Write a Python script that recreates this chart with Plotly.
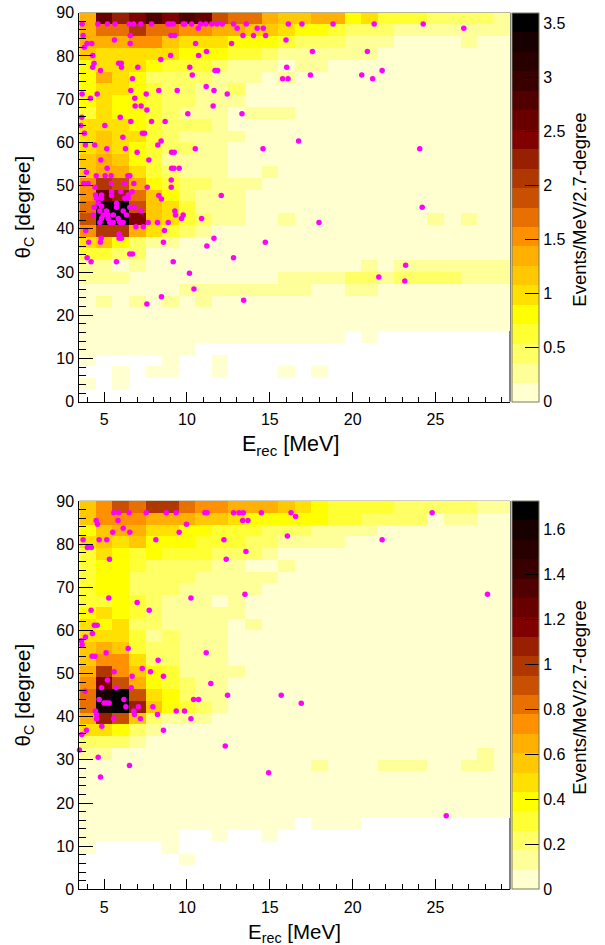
import numpy as np
import plotly.graph_objects as go

N = None
FONT = "Liberation Sans"

E_EDGES = np.arange(3.5, 30.5, 1.0)
THETA_EDGES = np.linspace(0, 90, 34)

COLORS = [
    "#FFFFD0", "#FFFF99", "#FFFF66", "#FFFF33", "#FFFF00",
    "#FFE000", "#FFC800", "#FFB000", "#FF9000", "#E87000",
    "#C85000", "#B03800", "#982000", "#800000", "#680000",
    "#500000", "#380000", "#280000", "#180000", "#000000",
]

# rows run from the top of the panel (theta = 90) down to theta = 0
TOP_Z = [
    [1.35, 2.61, 2.25, 2.43, 2.79, 2.43, 2.79, 2.61, 1.89, 1.71, 1.71, 1.35, 1.17, 1.17, 1.35, 1.35, .81, .99, .63, .63, .63, .45, .45, .45, .45, .27],
    [1.35, 1.71, 1.71, 2.07, 1.71, 1.71, 1.53, 1.53, 1.35, 1.35, 1.17, 1.17, .99, .81, .81, .63, .45, .45, .45, .27, .27, .27, .27, .27, .27, .27],
    [1.35, 1.35, 1.35, 1.53, 1.53, 1.17, .99, .99, .99, .81, .81, .81, .63, .45, .45, .45, .27, .27, .27, .09, .09, .09, .09, .27, .09, .09],
    [1.17, .99, .99, .99, .99, .99, .81, .81, .81, .63, .63, .45, .27, .27, .27, .27, .27, .27, .09, .09, .09, .09, .09, .09, .09, .09],
    [.81, .99, .99, .99, .81, .63, .63, .63, .45, .27, .27, .27, .09, .27, .27, .09, .09, .09, .09, .09, .09, .09, .09, .09, .09, .09],
    [.81, 1.35, .99, .81, .45, .45, .45, .45, .27, .27, .27, .09, .27, .09, .09, .09, .09, .09, .09, .09, .09, .09, .09, .09, .09, .09],
    [.81, .99, .99, .81, .63, .45, .45, .27, .27, .45, .09, .09, .09, .09, .09, .09, .09, .09, .09, .09, .09, .09, .09, .09, .09, .09],
    [.81, .99, .81, .81, .63, .45, .45, .27, .27, .27, .09, .09, .09, .09, .09, .09, .09, .09, .09, .09, .09, .09, .09, .09, .09, .09],
    [.63, .99, .81, .81, .63, .45, .27, .27, .27, .09, .27, .27, .27, .09, .09, .09, .09, .09, .09, .09, .09, .09, .09, .09, .09, .09],
    [.99, .99, .99, .81, .63, .45, .45, .45, .27, .09, .09, .09, .09, .09, .09, .09, .09, .09, .09, .09, .09, .09, .09, .09, .09, .09],
    [.99, 1.17, .99, .99, .63, .45, .27, .27, .27, .27, .09, .09, .09, .09, .09, .09, .09, .09, .09, .09, .09, .09, .09, .09, .09, .09],
    [.99, 1.17, .99, .81, .63, .45, .45, .27, .27, .09, .09, .09, .09, .09, .09, .09, .09, .09, .09, .09, .09, .09, .09, .09, .09, .09],
    [1.17, 1.35, 1.17, .81, .63, .27, .27, .27, .27, .09, .09, .09, .09, .09, .09, .09, .09, .09, .09, .09, .09, .09, .09, .09, .09, .09],
    [1.17, 1.35, 1.35, .99, .63, .45, .27, .27, .27, .09, .09, .27, .09, .09, .09, .09, .09, .09, .09, .09, .09, .09, .09, .09, .09, .09],
    [1.53, 2.07, 1.89, 1.35, .81, .63, .45, .45, .27, .27, .27, .09, .09, .09, .09, .09, .09, .09, .09, .09, .09, .09, .09, .09, .09, .09],
    [1.53, 2.61, 2.25, 1.71, 1.17, .81, .45, .27, .27, .27, .09, .09, .09, .09, .09, .09, .09, .09, .09, .09, .09, .09, .09, .09, .09, .09],
    [1.71, 3.33, 3.51, 1.89, 1.17, .99, .63, .27, .27, .27, .09, .09, .09, .09, .09, .09, .09, .09, .09, .09, .09, .09, .09, .09, .09, .09],
    [1.89, 3.51, 3.51, 2.43, 1.17, .99, .63, .45, .27, .27, .09, .09, .27, .09, .09, .09, .09, .09, .09, .09, .09, .27, .09, .27, .09, .09],
    [1.53, 2.07, 2.07, 1.35, .99, .63, .45, .27, .09, .09, .09, .09, .09, .09, .09, .09, .09, .09, .09, .09, .09, .09, .09, .09, .09, .09],
    [.99, 1.17, .81, .45, .27, .27, .09, .09, .09, .09, .09, .09, .09, .09, .09, .09, .09, .09, .09, .09, .09, .09, .09, .09, .09, .09],
    [.63, .63, .45, .45, .09, .09, .09, .09, .09, .09, .09, .09, .09, .09, .09, .09, .09, .09, .09, .09, .09, .09, .09, .09, .09, .09],
    [.27, .27, .09, .27, .09, .09, .09, .09, .09, .09, .09, .09, .09, .09, .09, .09, .09, .27, .09, .27, .27, .27, .27, .27, .27, .27],
    [.27, .27, .27, .09, .09, .09, .09, .09, .09, .09, .09, .09, .27, .27, .27, .27, .45, .45, .27, .45, .45, .45, .45, .27, .27, .27],
    [.09, .09, .09, .09, .09, .09, .27, .27, .27, .27, .27, .27, .27, .27, .09, .09, .27, .27, .09, .09, .09, .09, .09, .09, .09, .09],
    [.09, .27, .09, .27, .09, .27, .09, .27, .09, .09, .09, .09, .09, .09, .09, .09, .09, .09, .09, .09, .09, .09, .09, .09, .09, .09],
    [.09, .09, .09, .09, .09, .09, .09, .09, .09, .09, .09, .09, .09, .09, .09, .09, .09, .09, .09, .09, .09, .09, .09, .09, .09, .09],
    [.09, .09, .09, .09, .09, .09, .09, .09, .09, .09, .09, .09, .09, .09, .09, .09, .09, .09, .09, .09, .09, .09, .09, .09, .09, .09],
    [.09, .09, .09, .09, .09, .09, .09, .09, .09, .09, .09, .09, .09, .09, .09, .09, N, .09, N, N, N, N, N, N, N, N],
    [.09, .09, .09, .09, .09, .09, .09, N, N, N, N, N, N, N, N, N, N, N, N, N, N, N, N, N, N, N],
    [.09, N, N, N, N, .09, N, N, .09, N, N, N, N, N, N, N, N, N, N, N, N, N, N, N, N, N],
    [N, N, .09, N, .09, .09, N, N, .09, N, N, N, .09, N, .09, N, N, N, N, N, N, N, N, N, N, N],
    [.09, N, .09, N, N, N, N, N, N, N, N, N, N, N, N, N, N, N, N, N, N, N, N, N, N, N],
    [N, N, N, N, N, N, N, N, N, N, N, N, N, N, N, N, N, N, N, N, N, N, N, N, N, N],
]

BOTTOM_Z = [
    [.56, .73, .91, .82, .99, .99, .82, .73, .73, .65, .65, .65, .56, .47, .39, .30, .30, .30, .30, .22, .22, .22, .22, .22, .13, .13],
    [.56, .73, .73, .73, .65, .65, .65, .56, .56, .47, .39, .39, .39, .39, .39, .30, .30, .22, .22, .22, .22, .04, .13, .13, .04, .04],
    [.39, .56, .65, .65, .47, .47, .39, .39, .30, .30, .30, .22, .22, .22, .13, .13, .13, .13, .04, .04, .04, .04, .04, .04, .04, .04],
    [.47, .56, .47, .56, .39, .39, .39, .30, .30, .30, .22, .22, .13, .13, .13, .13, .04, .04, .04, .04, .04, .04, .04, .04, .04, .04],
    [.30, .47, .39, .30, .39, .30, .30, .30, .22, .22, .22, .13, .04, .04, .04, .04, .04, .04, .04, .04, .04, .04, .04, .04, .04, .04],
    [.30, .39, .39, .30, .22, .22, .22, .22, .13, .13, .04, .04, .13, .04, .04, .04, .04, .04, .04, .04, .04, .04, .04, .04, .04, .04],
    [.30, .39, .39, .22, .22, .22, .22, .13, .13, .13, .13, .13, .04, .04, .04, .04, .04, .04, .04, .04, .04, .04, .04, .04, .04, .04],
    [.30, .39, .39, .22, .22, .22, .13, .13, .13, .13, .13, .04, .04, .04, .04, .04, .04, .04, .04, .04, .04, .04, .04, .04, .04, .04],
    [.30, .30, .39, .30, .22, .13, .13, .13, .04, .13, .04, .04, .04, .04, .04, .04, .04, .04, .04, .04, .04, .04, .04, .04, .04, .04],
    [.39, .47, .39, .30, .22, .13, .13, .13, .13, .13, .04, .04, .04, .04, .04, .04, .04, .04, .04, .04, .04, .04, .04, .04, .04, .04],
    [.47, .39, .47, .22, .22, .13, .13, .13, .13, .04, .13, .04, .04, .04, .04, .04, .04, .04, .04, .04, .04, .04, .04, .04, .04, .04],
    [.47, .47, .47, .30, .13, .22, .13, .13, .13, .04, .04, .04, .04, .04, .04, .04, .04, .04, .04, .04, .04, .04, .04, .04, .04, .04],
    [.56, .65, .56, .30, .22, .22, .13, .13, .13, .04, .04, .04, .04, .04, .04, .04, .04, .04, .04, .04, .04, .04, .04, .04, .04, .04],
    [.56, .73, .73, .47, .22, .22, .13, .13, .13, .04, .04, .04, .04, .04, .04, .04, .04, .04, .04, .04, .04, .04, .04, .04, .04, .04],
    [.65, .99, .73, .56, .39, .30, .13, .13, .13, .13, .04, .04, .04, .04, .04, .04, .04, .04, .04, .04, .04, .04, .04, .04, .04, .04],
    [.73, 1.16, .91, .65, .39, .30, .22, .13, .13, .04, .04, .04, .04, .04, .04, .04, .04, .04, .04, .04, .04, .04, .04, .04, .04, .04],
    [.82, 1.60, 1.68, .91, .47, .39, .22, .13, .13, .04, .04, .04, .04, .04, .04, .04, .04, .04, .04, .04, .04, .04, .04, .04, .04, .04],
    [.82, 1.60, 1.68, 1.08, .56, .39, .30, .22, .13, .04, .04, .04, .04, .04, .04, .04, .04, .04, .04, .04, .04, .04, .04, .04, .04, .04],
    [.65, 1.08, .91, .56, .22, .13, .13, .13, .04, .04, .04, .04, .04, .04, .04, .04, .04, .04, .04, .04, .04, .04, .04, .04, .04, .04],
    [.47, .47, .39, .22, .13, .04, .04, .04, .04, .04, .04, .04, .04, .04, .04, .04, .04, .04, .04, .04, .04, .04, .04, .04, .04, .04],
    [.22, .22, .22, .13, .04, .04, .04, .04, .04, .04, .04, .04, .04, .04, .04, .04, .04, .04, .04, .04, .04, .04, .04, .04, .04, .04],
    [.13, .13, .04, .04, .04, .04, .04, .04, .04, .04, .04, .04, .04, .04, .04, .04, .04, .04, .04, .04, .04, .04, .04, .04, .13, .04],
    [.04, .04, .04, .04, .04, .04, .04, .04, .04, .04, .04, .04, .04, .04, .13, .04, .04, .04, .13, .13, .13, .04, .04, .13, .13, .04],
    [.04, .04, .04, .04, .04, .04, .04, .04, .04, .04, .04, .04, .04, .04, .04, .04, .04, .04, .04, .04, .04, .04, .04, .04, .04, .04],
    [.04, .04, .04, .04, .04, .04, .04, .04, .04, .04, .04, .04, .04, .04, .04, .04, .04, .04, .04, .04, .04, .04, .04, .04, .04, .04],
    [.04, .04, .04, .04, .04, .04, .04, .04, .04, .04, .04, .04, .04, .04, .04, .04, .04, .04, .04, .04, .04, .04, .04, .04, .04, .04],
    [.04, .04, .04, .04, .04, .04, .04, .04, .04, .04, .04, .04, .04, .04, .04, .04, .04, .04, .04, .04, .04, .04, .04, .04, .04, .04],
    [.04, .04, .04, .04, .04, .04, .04, .04, .04, .04, .04, .04, .04, N, .04, .04, .04, N, N, N, N, N, N, N, N, N],
    [.04, .04, .04, .04, .04, .04, N, N, .04, N, N, .04, N, N, N, N, N, N, N, N, N, N, N, N, N, N],
    [.04, N, N, N, N, .04, N, N, N, N, N, N, N, N, N, N, N, N, N, N, N, N, N, N, N, N],
    [N, N, N, N, N, N, .04, N, N, N, N, N, N, N, N, N, N, N, N, N, N, N, N, N, N, N],
    [N, N, N, N, N, N, N, N, N, N, N, N, N, N, N, N, N, N, N, N, N, N, N, N, N, N],
    [N, N, N, N, N, N, N, N, N, N, N, N, N, N, N, N, N, N, N, N, N, N, N, N, N, N],
]

TOP_E = [
    3.67, 4.62, 5.2, 5.66, 6.51, 6.77, 7.21, 7.86, 8.85, 8.99, 9.17, 9.77, 9.87, 10.28, 10.82, 11.14, 11.5, 11.81, 12.13, 12.81, 13.58, 16.12, 16.94, 18.82, 21.3, 24.26,
    10.68, 13.03, 14.24, 14.61, 26.71,
    3.73, 6.57, 9.03, 9.27, 13.38, 14.02, 14.75,
    5.62, 15.98,
    3.97, 4.25, 6.57, 10.52, 12.69,
    3.81,
    11.18, 17.57, 20.89,
    4.31, 9.01, 10.7,
    8.42,
    4.39, 5.88, 6.03,
    4.31, 6.05, 7.03, 10.17, 16.02,
    4.78, 11.69, 11.85, 21.78,
    10.32, 17.45, 20.55,
    6.71, 15.77, 16.1, 21.21,
    11.16,
    6.61, 8.3, 9.41, 11.63,
    3.67, 4.58, 7.54, 12.43,
    4.17, 6.85,
    6.87, 7.23, 11.58,
    7.58,
    10.05, 13.32,
    3.65, 5.97,
    6.61, 7.86, 8.68,
    3.59, 5.04,
    3.81, 7.31, 7.44,
    6.13,
    8.44, 16.74,
    8.24, 3.87, 4.43,
    5.16, 6.29, 10.5, 14.59, 24.05,
    6.99, 9.07, 9.23,
    4.8, 7.7,
    5.18, 9.07, 9.21, 9.53,
    3.93,
    4.52, 5.06, 5.42, 6.43, 6.55,
    9.05,
    3.77, 4.03, 5.44, 6.21, 6.79,
    4.45, 7.6, 9.05,
    5.45, 6.01, 6.69,
    4.48, 4.84, 6.45,
    12.07, 8.3, 5.45,
    4.54, 4.84, 6.25, 6.45,
    8.46,
    4.64, 5.75,
    4.84,
    4.4, 5.75, 6.55, 6.82, 24.2,
    7.22, 6.15, 4.74, 5.14, 9.27,
    4.34, 6.35, 4.94, 5.24, 5.55, 9.31, 9.77,
    4.84, 5.85, 5.24, 9.67, 10.88,
    4.74, 5.34, 5.55, 5.95, 6.15, 7.66, 8.22, 8.87, 17.97,
    6.92, 7.36,
    3.89, 8.64,
    5.9,
    4.82, 5.9, 6.05, 11.63,
    4.07, 4.78, 8.58, 14.73,
    11.2,
    6.55, 6.71,
    3.97, 12.81,
    4.21, 5.74, 9.17,
    23.2,
    10.15,
    21.58,
    23.15,
    10.42,
    8.46,
    13.42,
    7.58,
]
TOP_THETA = [
    87.4, 87.4, 87.4, 87.4, 87.4, 87.4, 87.4, 87.4, 87.4, 87.4, 87.4, 87.4, 87.4, 87.4, 87.4, 87.4, 87.4, 87.4, 87.4, 87.4, 87.4, 87.4, 87.4, 87.4, 87.4, 87.4,
    86.4, 86.4, 86.4, 86.4, 86.4,
    84.7, 84.7, 84.7, 84.7, 84.7, 84.7, 84.7,
    83.7, 83.7,
    82.9, 82.9, 82.9, 82.9, 82.9,
    82.0,
    81.0, 81.0, 81.0,
    80.1, 80.1, 80.1,
    79.2,
    78.3, 78.3, 78.3,
    77.4, 77.4, 77.4, 77.4, 77.4,
    76.6, 76.6, 76.6, 76.6,
    75.6, 75.6, 75.6,
    74.7, 74.7, 74.7, 74.7,
    72.9,
    72.0, 72.0, 72.0, 72.0,
    71.2, 71.2, 71.2, 71.2,
    70.2, 70.2,
    68.4, 68.4, 68.4,
    67.5,
    66.6, 66.6,
    65.8, 65.8,
    64.8, 64.8, 64.8,
    63.9, 63.9,
    62.1, 62.1, 62.1,
    61.2,
    60.3, 60.3,
    59.4, 59.4, 59.4,
    58.5, 58.5, 58.5, 58.5, 58.5,
    57.7, 57.7, 57.7,
    55.9, 55.9,
    54.0, 54.0, 54.0, 54.0,
    53.1,
    52.3, 52.3, 52.3, 52.3, 52.3,
    51.3,
    50.5, 50.5, 50.5, 50.5, 50.5,
    49.6, 49.6, 49.6,
    48.6, 48.6, 48.6,
    47.85, 47.85, 47.85,
    47.7, 47.7, 47.7,
    47.08, 47.08, 47.08, 47.08,
    46.9,
    45.9, 45.9,
    45.2,
    45.0, 45.0, 45.0, 45.0, 45.0,
    44.1, 44.1, 44.1, 44.1, 44.1,
    43.2, 43.2, 43.2, 43.2, 43.2, 43.2, 43.2,
    42.4, 42.4, 42.4, 42.4, 42.4,
    41.45, 41.45, 41.45, 41.45, 41.45, 41.45, 41.45, 41.45, 41.45,
    40.5, 40.5,
    39.6, 39.6,
    38.75,
    37.8, 37.8, 37.8, 37.8,
    36.9, 36.9, 36.9, 36.9,
    36.0,
    34.2, 34.2,
    33.3, 33.3,
    32.4, 32.4, 32.4,
    31.57,
    29.7,
    28.87,
    27.94,
    26.1,
    24.3,
    23.5,
    22.6,
]

BOTTOM_E = [
    5.58, 5.88, 6.51, 7.54, 8.75, 9.35, 11.08, 11.22, 12.81, 13.14, 13.4, 14.49, 16.28, 24.8,
    16.56,
    4.52, 5.84, 13.36, 13.68,
    4.6, 9.97,
    6.15,
    5.52, 6.55, 9.53,
    16.06,
    3.73, 4.7, 5.16, 8.12, 12.23, 21.78,
    3.99, 4.23,
    13.56,
    5.32, 12.37,
    13.5, 28.14,
    5.28, 10.24,
    6.99,
    4.21, 7.72,
    4.41, 4.58,
    4.29,
    3.87,
    3.63,
    3.67,
    6.45,
    5.12, 11.16,
    4.27, 4.45,
    8.26,
    7.3,
    5.6, 7.8,
    6.69, 8.58,
    5.2,
    11.44,
    4.84, 5.72, 6.63,
    3.85,
    12.45, 15.69,
    4.7, 6.19, 10.4, 10.7,
    16.9,
    5.0, 5.14, 5.3,
    6.31, 7.07, 7.94,
    4.47, 6.79, 9.35, 9.85,
    8.22, 4.54, 6.83,
    10.24, 4.54, 5.58, 7.19,
    4.86,
    3.93, 8.58,
    3.65,
    12.31,
    3.51,
    4.64,
    6.53,
    14.93,
    4.78,
    25.65,
]
BOTTOM_THETA = [
    87.3, 87.3, 87.3, 87.3, 87.3, 87.3, 87.3, 87.3, 87.3, 87.3, 87.3, 87.3, 87.3, 87.3,
    86.4,
    85.5, 85.5, 85.5, 85.5,
    84.6, 84.6,
    83.7,
    82.75, 82.75, 82.75,
    81.9,
    81.0, 81.0, 81.0, 81.0, 81.0, 81.0,
    79.2, 79.2,
    78.3,
    76.5, 76.5,
    68.4, 68.4,
    67.5, 67.5,
    66.5,
    64.7, 64.7,
    61.2, 61.2,
    59.3,
    58.5,
    57.6,
    56.7,
    55.8,
    54.8, 54.8,
    54.0, 54.0,
    53.1,
    51.2,
    50.4, 50.4,
    49.4, 49.4,
    48.5,
    47.7,
    46.7, 46.7, 46.7,
    45.9,
    45.0, 45.0,
    44.0, 44.0, 44.0, 44.0,
    43.1,
    43.2, 43.2, 43.2,
    42.3, 42.3, 42.3,
    41.3, 41.3, 41.3, 41.3,
    40.5, 40.5, 40.5,
    39.55, 39.55, 39.55, 39.55,
    37.8,
    36.85, 36.85,
    35.9,
    33.2,
    32.3,
    30.6,
    28.7,
    27.0,
    26.0,
    17.07,
]


def colorscale():
    scale = []
    for i, c in enumerate(COLORS):
        scale.append([i / len(COLORS), c])
        scale.append([(i + 1) / len(COLORS), c])
    return scale


fig = go.Figure()

panels = [
    (TOP_Z, TOP_E, TOP_THETA, 3.6, 0.5, "x", "y", 12.7, 401.7, 290, 445, 21.5),
    (BOTTOM_Z, BOTTOM_E, BOTTOM_THETA, 1.725, 0.2, "x2", "y2", 501.0, 889.3, 294.5, 933, 20.5),
]

for z, e, theta, zmax, cb_step, xa, ya, top, bottom, xt_x, xt_y, xt_size in panels:
    fig.add_trace(go.Heatmap(
        x=E_EDGES, y=THETA_EDGES, z=z[::-1], xaxis=xa, yaxis=ya,
        zmin=0, zmax=zmax, colorscale=colorscale(), hoverongaps=False,
        colorbar=dict(
            x=511.7 / 605, xanchor="left", xpad=0, ypad=0,
            y=1 - (top + bottom) / 2 / 945, yanchor="middle",
            len=(bottom - top) / 945, lenmode="fraction",
            thickness=27.3, thicknessmode="pixels",
            tick0=0, dtick=cb_step, ticks="inside", ticklen=14, tickcolor="black",
            tickfont=dict(family=FONT, size=16, color="black"),
            outlinecolor="#7a7a60", outlinewidth=1,
        ),
    ))
    fig.add_trace(go.Scatter(
        x=e, y=theta, xaxis=xa, yaxis=ya, mode="markers", showlegend=False,
        marker=dict(color="#FF00FF", size=5.5, line_width=0), cliponaxis=False,
    ))

    suffix = xa[1:]
    x_domain = [79.3 / 605, 510 / 605]
    y_domain = [1 - bottom / 945, 1 - top / 945]
    fig.update_layout({
        "xaxis" + suffix: dict(
            domain=x_domain, anchor=ya, range=[3.5, 29.5], tick0=0, dtick=5,
            ticks="inside", ticklen=10, tickcolor="black", showgrid=False, zeroline=False,
            showline=True, linecolor="black", ticklabelstandoff=3,
            minor=dict(ticks="inside", tick0=0, dtick=1, ticklen=5, tickcolor="black", showgrid=False),
            tickfont=dict(family=FONT, size=16, color="black"),
        ),
        "yaxis" + suffix: dict(
            domain=y_domain, anchor=xa, range=[0, 90], tick0=0, dtick=10,
            ticks="inside", ticklen=14, tickcolor="black", showgrid=False, zeroline=False,
            showline=True, linecolor="black", ticklabelstandoff=1,
            minor=dict(ticks="inside", tick0=0, dtick=2, ticklen=7, tickcolor="black", showgrid=False),
            tickfont=dict(family=FONT, size=16, color="black"),
            title=dict(text="θ<sub>C</sub> [degree]", standoff=20,
                       font=dict(family=FONT, size=20.5, color="black")),
        ),
    })
    # the frame sits under the cells, so it only shows where bins are empty
    fig.add_shape(type="line", layer="below", xref=f"{xa} domain", yref=f"{ya} domain",
                  x0=1, x1=1, y0=0, y1=1, line=dict(color="black", width=1))
    fig.add_shape(type="line", layer="below", xref=f"{xa} domain", yref=f"{ya} domain",
                  x0=0, x1=1, y0=1, y1=1, line=dict(color="#a0a080", width=1))
    fig.add_annotation(
        text="E<sub>rec</sub> [MeV]", showarrow=False,
        xref="paper", yref="paper", x=xt_x / 605, y=1 - xt_y / 945,
        xanchor="center", yanchor="middle",
        font=dict(family=FONT, size=xt_size, color="black"),
    )
    fig.add_annotation(
        text="Events/MeV/2.7-degree", textangle=-90, showarrow=False,
        xref="paper", yref="paper", x=579.5 / 605, y=1 - ((top + bottom) / 2 + 3) / 945,
        xanchor="center", yanchor="middle",
        font=dict(family=FONT, size=18.5, color="black"),
    )

fig.update_layout(
    width=605, height=945, margin=dict(l=0, r=0, t=0, b=0, autoexpand=False),
    paper_bgcolor="white", plot_bgcolor="white", showlegend=False,
)

fig.write_html("out.html", config={"displayModeBar": False},
               post_script="document.body.style.margin='0';")
